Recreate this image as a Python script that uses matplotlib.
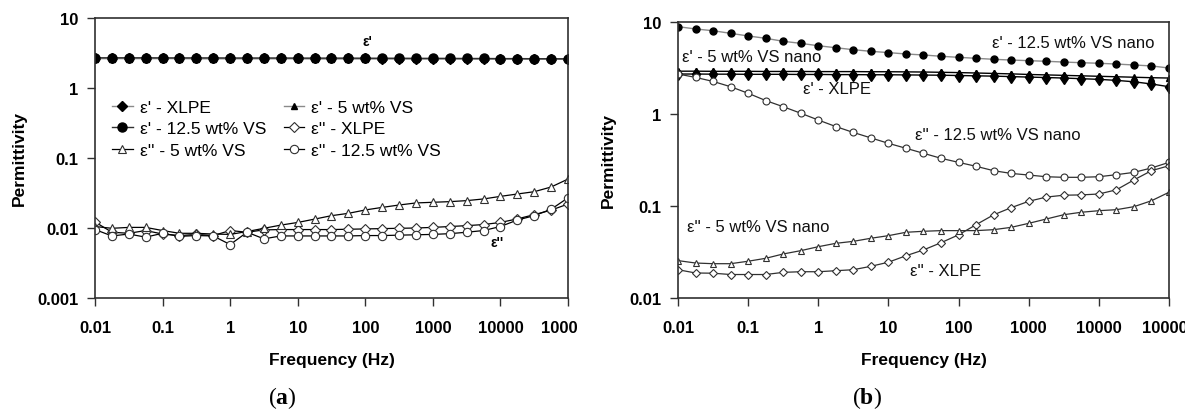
import matplotlib
matplotlib.use("Agg")
import matplotlib.pyplot as plt
from matplotlib.patches import Rectangle

plt.rcParams['font.family'] = ['Liberation Sans', 'DejaVu Sans']
plt.rcParams['mathtext.fontset'] = 'custom'
plt.rcParams['mathtext.rm'] = 'Liberation Serif'
plt.rcParams['mathtext.bf'] = 'Liberation Serif:bold'

# ---------------- data ----------------
freq = [0.01, 0.0178, 0.0316, 0.0562, 0.1, 0.178, 0.316, 0.562, 1, 1.78, 3.16, 5.62,
        10, 17.8, 31.6, 56.2, 100, 178, 316, 562, 1000, 1780, 3160, 5620,
        10000, 17800, 31600, 56200, 100000]

x_tick_vals = [0.01, 0.1, 1, 10, 100, 1000, 10000, 100000]
x_tick_labels = ['0.01', '0.1', '1', '10', '100', '1000', '10000', '100000']
ya_tick_vals = [0.001, 0.01, 0.1, 1, 10]
ya_tick_labels = ['0.001', '0.01', '0.1', '1', '10']
yb_tick_vals = [0.01, 0.1, 1, 10]
yb_tick_labels = ['0.01', '0.1', '1', '10']

# (a) micro-filled
a_e1_xlpe = [2.66, 2.66, 2.66, 2.66, 2.66, 2.66, 2.65, 2.65, 2.65, 2.65, 2.65, 2.65, 2.65, 2.64, 2.64,
             2.64, 2.64, 2.63, 2.63, 2.63, 2.63, 2.62, 2.62, 2.62, 2.61, 2.61, 2.60, 2.60, 2.59]
a_e1_5 = [2.63, 2.63, 2.63, 2.63, 2.63, 2.63, 2.62, 2.62, 2.62, 2.62, 2.62, 2.62, 2.62, 2.61, 2.61,
          2.61, 2.61, 2.61, 2.60, 2.60, 2.60, 2.60, 2.60, 2.59, 2.59, 2.59, 2.58, 2.58, 2.57]
a_e1_12 = [2.70, 2.70, 2.70, 2.70, 2.69, 2.69, 2.69, 2.69, 2.68, 2.68, 2.68, 2.68, 2.67, 2.67, 2.67,
           2.67, 2.66, 2.66, 2.66, 2.65, 2.65, 2.65, 2.64, 2.64, 2.63, 2.63, 2.62, 2.62, 2.61]
a_e2_xlpe = [0.0122, 0.0087, 0.0084, 0.0092, 0.0082, 0.0078, 0.0081, 0.0078, 0.0092, 0.0087, 0.0094,
             0.0095, 0.0095, 0.0095, 0.0095, 0.0096, 0.0097, 0.0098, 0.0099, 0.0100, 0.0102, 0.0105,
             0.0108, 0.0112, 0.0120, 0.0135, 0.0155, 0.0180, 0.0220]
a_e2_5 = [0.0105, 0.0099, 0.0102, 0.0102, 0.0092, 0.0084, 0.0084, 0.0082, 0.0081, 0.0089, 0.0099,
          0.0110, 0.0120, 0.0134, 0.0150, 0.0162, 0.0181, 0.0197, 0.0213, 0.0228, 0.0233, 0.0238,
          0.0246, 0.0260, 0.0283, 0.0306, 0.0330, 0.0385, 0.0500]
a_e2_12 = [0.0095, 0.0077, 0.0082, 0.0074, 0.0084, 0.0076, 0.0078, 0.0077, 0.0058, 0.0087, 0.0070,
           0.0077, 0.0077, 0.0077, 0.0077, 0.0077, 0.0078, 0.0078, 0.0079, 0.0080, 0.0081, 0.0083,
           0.0087, 0.0092, 0.0105, 0.0130, 0.0150, 0.0185, 0.0270]

# (b) nano-filled
b_e1_12 = [8.9, 8.4, 8.04, 7.53, 7.05, 6.65, 6.17, 5.86, 5.52, 5.25, 5.00, 4.80, 4.65, 4.49, 4.38,
           4.24, 4.13, 4.03, 3.93, 3.86, 3.80, 3.74, 3.67, 3.61, 3.56, 3.49, 3.41, 3.33, 3.16]
b_e1_5 = [2.92, 2.92, 2.91, 2.91, 2.91, 2.90, 2.90, 2.90, 2.89, 2.89, 2.89, 2.88, 2.88, 2.87, 2.86,
          2.84, 2.82, 2.79, 2.76, 2.73, 2.69, 2.66, 2.63, 2.60, 2.57, 2.54, 2.51, 2.48, 2.46]
b_e1_xlpe = [2.72, 2.72, 2.71, 2.71, 2.70, 2.70, 2.70, 2.69, 2.69, 2.68, 2.68, 2.67, 2.67, 2.66, 2.65,
             2.64, 2.62, 2.60, 2.58, 2.55, 2.52, 2.49, 2.46, 2.42, 2.38, 2.32, 2.24, 2.12, 1.98]
b_e2_12 = [2.72, 2.50, 2.26, 1.98, 1.68, 1.40, 1.20, 1.02, 0.86, 0.73, 0.63, 0.55, 0.48, 0.424, 0.374,
           0.330, 0.298, 0.270, 0.242, 0.226, 0.217, 0.208, 0.205, 0.205, 0.208, 0.219, 0.232, 0.259, 0.298]
b_e2_xlpe = [0.0203, 0.0187, 0.0186, 0.0180, 0.0180, 0.0180, 0.0190, 0.0193, 0.0193, 0.0198, 0.0203,
             0.0221, 0.0245, 0.0288, 0.0333, 0.0399, 0.0486, 0.0627, 0.0802, 0.0959, 0.1125, 0.125,
             0.131, 0.132, 0.135, 0.150, 0.192, 0.242, 0.274]
b_e2_5 = [0.0255, 0.0240, 0.0236, 0.0236, 0.0251, 0.0270, 0.0301, 0.0327, 0.0361, 0.0393, 0.0413,
          0.0446, 0.0476, 0.0518, 0.0531, 0.0540, 0.0540, 0.0540, 0.0553, 0.0586, 0.0648, 0.0722,
          0.0804, 0.0855, 0.0889, 0.0912, 0.0983, 0.114, 0.141]

labels_a = ["ε' - XLPE", "ε' - 12.5 wt% VS", "ε'' - 5 wt% VS",
            "ε' - 5 wt% VS", "ε'' - XLPE", "ε'' - 12.5 wt% VS"]

# ---------------- figure ----------------
W, H = 1185, 410
fig = plt.figure(figsize=(W / 100, H / 100), dpi=100)


def fx(px):
    return px / W


def fy(py):
    return 1 - py / H


axA = fig.add_axes([fx(95), fy(299), fx(568) - fx(95), fy(19) - fy(299)])
axB = fig.add_axes([fx(678), fy(299), fx(1169) - fx(678), fy(23) - fy(299)])

for ax in (axA, axB):
    ax.set_xscale('log')
    ax.set_yscale('log')

dark = '#303030'
grey = '#8a8a8a'

# ---- panel (a) ----
l1, = axA.plot(freq, a_e1_xlpe, color=grey, lw=1.0, marker='D', ms=5, mfc='black', mec='black')
l4, = axA.plot(freq, a_e1_5, color=grey, lw=1.0, marker='^', ms=5, mfc='black', mec='black')
l2, = axA.plot(freq, a_e1_12, color=dark, lw=1.0, marker='o', ms=6.5, mfc='black', mec='black')
l5, = axA.plot(freq, a_e2_xlpe, color='black', lw=0.9, marker='D', ms=5, mfc='white', mec=dark, mew=0.8)
l3, = axA.plot(freq, a_e2_5, color='black', lw=0.9, marker='^', ms=6, mfc='white', mec=dark, mew=0.8)
l6, = axA.plot(freq, a_e2_12, color='black', lw=0.9, marker='o', ms=6, mfc='white', mec=dark, mew=0.8)

axA.legend([l1, l2, l3, l4, l5, l6], labels_a, ncol=2, frameon=False, fontsize=12.5,
           loc='upper left', bbox_to_anchor=(fx(112), fy(101)), bbox_transform=fig.transFigure,
           borderaxespad=0, borderpad=0, handlelength=1.2, handletextpad=0.4,
           labelspacing=0.35, columnspacing=1.0)

fig.text(fx(367), fy(42), "ε'", fontsize=10, fontweight='bold', ha='center', va='center')
fig.text(fx(497), fy(243), "ε''", fontsize=10, fontweight='bold', ha='center', va='center')

# ---- panel (b) ----
axB.plot(freq, b_e1_12, color=grey, lw=1.0, marker='o', ms=5, mfc='black', mec='black')
axB.plot(freq, b_e1_5, color='black', lw=1.0, marker='^', ms=5, mfc='black', mec='black')
axB.plot(freq, b_e1_xlpe, color='black', lw=1.0, marker='d', ms=6.5, mfc='black', mec='black')
axB.plot(freq, b_e2_12, color=dark, lw=0.9, marker='o', ms=5, mfc='white', mec=dark, mew=0.8)
axB.plot(freq, b_e2_xlpe, color=dark, lw=0.9, marker='D', ms=4, mfc='white', mec=dark, mew=0.8)
axB.plot(freq, b_e2_5, color=dark, lw=0.9, marker='^', ms=5, mfc='white', mec=dark, mew=0.8)

ann_kw = dict(fontsize=12, va='center', ha='left', color='#111111')
fig.text(fx(682), fy(57), "ε' - 5 wt% VS nano", **ann_kw)
fig.text(fx(803), fy(89), "ε' - XLPE", **ann_kw)
fig.text(fx(992), fy(43), "ε' - 12.5 wt% VS nano", **ann_kw)
fig.text(fx(915), fy(135), "ε'' - 12.5 wt% VS nano", **ann_kw)
fig.text(fx(687), fy(228), "ε'' - 5 wt% VS nano", **ann_kw)
fig.text(fx(910), fy(271), "ε'' - XLPE", **ann_kw)

axA.set_ylim(0.001, 10)
axA.set_yticks(ya_tick_vals)
axA.set_yticklabels(ya_tick_labels)
axB.set_ylim(0.01, 10)
axB.set_yticks(yb_tick_vals)
axB.set_yticklabels(yb_tick_labels)

for ax in (axA, axB):
    ax.set_xlim(0.01, 100000)
    ax.set_xticks(x_tick_vals)
    ax.set_xticklabels(x_tick_labels)
    ax.minorticks_off()
    ax.tick_params(axis='both', which='major', direction='out', length=6, width=1.0,
                   color=dark, labelsize=12, pad=6)
    ax.tick_params(axis='x', pad=10)
    for lbl in ax.get_xticklabels() + ax.get_yticklabels():
        lbl.set_fontweight('bold')
    for s in ax.spines.values():
        s.set_linewidth(1.2)
        s.set_color(dark)
    ax.set_xlabel('Frequency (Hz)', fontsize=12.5, fontweight='bold', labelpad=12)
    ax.set_ylabel('Permittivity', fontsize=12.5, fontweight='bold')

axA.yaxis.set_label_coords((fx(27) - fx(95)) / (fx(568) - fx(95)), 0.5)
axB.yaxis.set_label_coords((fx(616) - fx(678)) / (fx(1169) - fx(678)), 0.5)

# the last tick label of panel (a) is cut off in the reference
fig.add_artist(Rectangle((fx(578), fy(345)), fx(610) - fx(578), fy(312) - fy(345),
                         transform=fig.transFigure, facecolor='white', edgecolor='none', zorder=20))

fig.text(fx(282), fy(398), r"$(\mathbf{a})$", fontsize=17, ha='center', va='center')
fig.text(fx(867), fy(398), r"$(\mathbf{b})$", fontsize=17, ha='center', va='center')

fig.savefig('out.png', dpi=100)
